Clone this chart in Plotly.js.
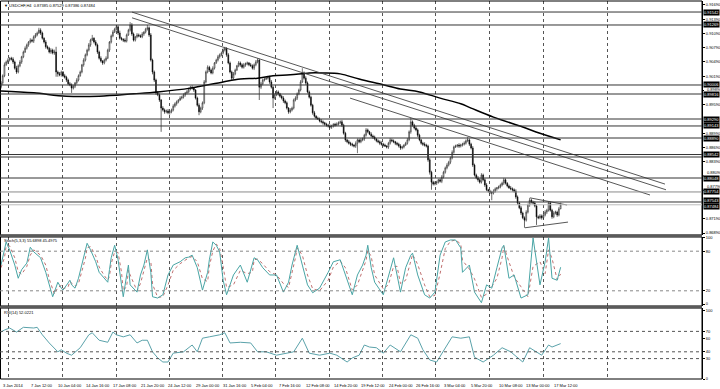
<!DOCTYPE html>
<html><head><meta charset="utf-8">
<script src="https://cdn.plot.ly/plotly-3.0.1.min.js"></script>
<style>html,body{margin:0;padding:0;background:#fff}#chart{width:720px;height:389px}</style>
</head><body><div id="chart"></div>
<script>
// ---- candle data (USDCHF H4), bar index 0 = 3 Jan 2014 00:00 ----
const firstOpen = 0.8996;
const closes = [
0.9005,0.9020,0.9043,0.9049,0.9053,0.9057,0.9055,0.9049,0.9036,0.9028,
0.9041,0.9049,0.9060,0.9070,0.9078,0.9085,0.9091,0.9095,0.9093,0.9102,
0.9106,0.9110,0.9116,0.9110,0.9099,0.9091,0.9081,0.9078,0.9070,0.9074,
0.9068,0.9070,0.9028,0.9024,0.9022,0.9028,0.9020,0.9017,0.9011,0.9003,
0.9001,0.8994,0.8998,0.9005,0.9011,0.9020,0.9028,0.9043,0.9053,0.9064,
0.9074,0.9085,0.9095,0.9099,0.9091,0.9085,0.9070,0.9057,0.9051,0.9047,
0.9053,0.9057,0.9074,0.9091,0.9104,0.9112,0.9118,0.9123,0.9110,0.9099,
0.9097,0.9095,0.9093,0.9106,0.9116,0.9127,0.9108,0.9095,0.9102,0.9106,
0.9104,0.9102,0.9108,0.9112,0.9118,0.9121,0.9106,0.9053,0.9028,0.9011,
0.8984,0.8980,0.8969,0.8952,0.8948,0.8944,0.8946,0.8942,0.8944,0.8948,
0.8956,0.8961,0.8965,0.8969,0.8973,0.8975,0.8980,0.8984,0.8986,0.8992,
0.8996,0.8994,0.8990,0.8973,0.8958,0.8944,0.8952,0.8963,0.9007,0.9028,
0.9038,0.9032,0.9026,0.9036,0.9047,0.9053,0.9060,0.9064,0.9068,0.9074,
0.9078,0.9064,0.9047,0.9028,0.9015,0.9024,0.9032,0.9041,0.9047,0.9043,
0.9038,0.9043,0.9045,0.9047,0.9043,0.9041,0.9036,0.9043,0.9049,0.9053,
0.8996,0.9003,0.9011,0.9013,0.9015,0.9017,0.9007,0.8996,0.8973,0.8980,
0.8986,0.8982,0.8977,0.8973,0.8967,0.8963,0.8952,0.8944,0.8948,0.8952,
0.8969,0.8973,0.8982,0.8990,0.9007,0.9026,0.9015,0.9005,0.8986,0.8975,
0.8958,0.8942,0.8935,0.8931,0.8929,0.8925,0.8923,0.8921,0.8918,0.8916,
0.8914,0.8912,0.8914,0.8918,0.8916,0.8918,0.8921,0.8923,0.8916,0.8899,
0.8885,0.8881,0.8878,0.8876,0.8874,0.8872,0.8878,0.8885,0.8881,0.8885,
0.8887,0.8895,0.8906,0.8902,0.8897,0.8893,0.8891,0.8887,0.8883,0.8881,
0.8878,0.8876,0.8874,0.8872,0.8870,0.8878,0.8885,0.8883,0.8881,0.8878,
0.8876,0.8872,0.8868,0.8870,0.8874,0.8878,0.8885,0.8902,0.8923,0.8916,
0.8910,0.8906,0.8895,0.8885,0.8878,0.8876,0.8874,0.8872,0.8843,0.8817,
0.8796,0.8792,0.8794,0.8796,0.8801,0.8798,0.8807,0.8817,0.8826,0.8832,
0.8838,0.8847,0.8859,0.8870,0.8872,0.8874,0.8872,0.8874,0.8876,0.8878,
0.8883,0.8885,0.8876,0.8868,0.8832,0.8811,0.8805,0.8801,0.8796,0.8811,
0.8801,0.8790,0.8780,0.8777,0.8775,0.8773,0.8777,0.8782,0.8784,0.8786,
0.8790,0.8794,0.8801,0.8794,0.8788,0.8784,0.8782,0.8780,0.8777,0.8765,
0.8752,0.8742,0.8731,0.8721,0.8716,0.8733,0.8748,0.8758,0.8754,0.8752,
0.8746,0.8723,0.8721,0.8725,0.8721,0.8727,0.8733,0.8737,0.8752,0.8737,
0.8723,0.8731,0.8733,0.8727,0.8740,0.8748];
// upper / lower shadow lengths in pips
const wickUp = [
4,3,5,3,4,2,3,4,3,5, 3,4,2,3,4,3,2,4,3,3, 4,3,5,4,3,2,4,3,3,4, 3,5,11,3,4,3,2,4,3,3,
4,3,3,2,4,3,3,2,4,3, 3,4,3,7,2,4,3,3,4,2, 3,4,3,2,3,4,3,4,3,5, 3,2,4,3,3,6,4,3,2,4,
3,3,4,2,3,6,3,4,3,3, 3,4,3,2,4,3,3,4,2,3, 4,3,3,2,4,3,3,2,4,3, 3,4,3,2,3,4,3,3,4,3,
4,3,3,4,2,3,4,3,3,4, 3,2,4,3,3,4,3,2,4,3, 3,4,3,3,2,4,3,3,4,4, 3,4,3,2,4,3,3,4,3,3,
4,3,2,3,4,3,3,2,4,3, 3,4,3,3,4,10,3,4,3,3, 3,3,4,2,3,3,4,3,2,3, 3,4,3,2,3,4,3,3,4,3,
3,2,4,3,3,2,4,3,3,4, 3,3,4,3,2,4,3,3,2,3, 3,4,3,3,2,3,4,3,3,2, 3,3,4,3,2,3,4,3,8,3,
3,4,3,3,2,3,4,3,3,4, 3,3,4,3,2,3,4,3,3,4, 3,3,4,3,3,2,4,3,3,4, 3,6,3,3,4,3,3,4,3,4,
3,3,4,2,3,3,4,3,2,3, 3,3,4,3,2,3,4,3,3,4, 3,3,4,3,3,4,3,5,3,3, 4,3,3,4,3,3,4,3,2,3,
3,4,3,3,4,5];
const wickDown = [
3,4,3,2,4,3,3,4,3,4, 3,3,4,3,2,3,4,3,3,4, 3,3,2,4,3,3,4,3,3,4, 3,4,10,6,3,4,3,3,4,3,
3,10,3,4,3,3,2,3,4,3, 3,3,4,2,3,3,4,3,3,4, 3,3,2,4,3,3,2,3,4,3, 3,4,3,3,2,3,4,3,3,3,
3,2,3,4,3,3,4,3,5,4, 4,3,4,50,3,4,3,3,4,3, 3,3,4,3,2,3,3,4,3,3, 3,3,4,3,3,7,3,4,3,3,
3,4,3,3,3,2,3,4,3,3, 3,4,3,3,5,3,3,2,3,4, 3,3,4,3,3,2,3,4,3,3, 27,4,3,3,2,3,4,3,21,3,
3,4,3,3,4,3,3,4,3,3, 3,3,4,3,3,2,3,4,3,3, 3,4,3,3,2,3,3,4,3,3, 3,3,4,3,3,2,3,3,4,3,
4,3,3,4,3,3,4,21,3,3, 3,4,3,3,2,3,4,3,3,3, 4,3,3,2,3,4,3,3,3,4, 3,3,4,3,3,2,3,3,4,3,
3,3,4,3,3,4,3,3,4,5, 16,3,3,4,3,3,4,3,3,3, 3,4,3,3,2,3,4,3,3,3, 3,3,4,3,4,3,3,4,3,3,
3,4,3,3,4,15,3,3,4,3, 3,3,4,3,3,2,3,4,3,4, 4,3,4,3,16,3,3,4,3,3, 3,17,3,3,4,3,3,4,3,3,
4,3,3,4,3,1];

// moving average (thick black line)
const maBars = [0,19,38,57,77,91,110,129,139,149,158,168,179,187,197,208,222,232,243,255,267,273,286,303,313,325];
const maValues = [0.8988,0.8984,0.8977,0.8977,0.8982,0.8986,0.8994,0.9007,0.9013,0.9015,0.9020,0.9022,0.9026,0.9026,0.9024,0.9013,0.9001,0.8992,0.8986,0.8973,0.8961,0.8952,0.8933,0.8912,0.8899,0.8885];

// trend lines (bar index, price)
const trendStartBars = [76.1, 76.1, 202.7, 307.2, 304.3];
const trendStartPrices = [0.9154, 0.9142, 0.8973, 0.8763, 0.8700];
const trendEndBars = [385.6, 386.2, 376.9, 328.7, 329.3];
const trendEndPrices = [0.8792, 0.8780, 0.8769, 0.8748, 0.8712];

// horizontal levels
const levelPrices = [0.91542,0.91269,0.90006,0.89816,0.89290,0.89143,0.88890,0.88542,0.88490,0.88048,0.87543];
const grayLevelPrices = [0.87754];
const bidPrice = 0.87484;
const levelLabelPrices = [0.91542,0.91269,0.90006,0.89816,0.89290,0.89143,0.88890,0.88542,0.88048,0.87754,0.87543,0.87484];
const priceTicks = [0.91690,0.91390,0.91090,0.90790,0.90490,0.90190,0.89590,0.88990,0.88690,0.88390,0.87190,0.86890];
const crowdedPriceTicks = [0.89890,0.88090,0.87790];

// Stochastic (5,3,3)
const stochBars = [0,2,3,5,8,10,12,15,17,19,
23,26,28,30,31,33,35,36,39,40,
41,43,45,47,49,50,52,55,57,60,
62,63,64,66,68,70,71,73,74,75,
78,79,81,83,85,87,88,91,94,97,
100,104,107,109,111,114,117,120,121,123,
125,127,129,131,135,139,143,146,147,149,
152,156,160,164,167,169,171,172,175,178,
181,185,190,193,197,200,202,204,207,210,
212,213,215,217,222,225,228,230,232,235,
238,239,242,246,249,252,255,258,261,264,
267,268,272,275,279,282,285,288,291,292,
295,298,302,306,309,313,316,318,320,323,
325];
const stochMain = [59,82,94,82,59,39,52,62,86,79,
70,48,29,11,18,33,24,21,32,36,
29,24,39,59,79,92,82,64,48,39,
33,52,70,89,67,29,11,44,59,29,
21,18,44,59,82,48,11,9,14,44,
59,64,70,71,74,55,21,48,67,94,
89,79,36,14,44,59,33,64,70,67,
55,44,44,18,33,59,82,89,59,29,
17,24,48,64,67,44,29,14,44,59,
74,89,55,33,14,44,70,44,18,55,
74,77,44,14,9,18,74,94,97,97,
85,48,59,18,2,29,24,55,85,89,
39,44,9,14,100,29,64,100,39,36,
55.69];
const stochSignal = [55,70,88,88,70,49,45,57,74,82,
74,59,38,20,15,25,28,23,26,34,
32,27,31,49,69,85,87,73,56,43,
36,42,61,79,78,48,20,27,51,44,
25,20,31,51,70,65,30,10,11,29,
51,61,67,70,72,64,38,34,57,80,
91,84,57,25,29,51,46,48,67,68,
61,49,44,31,25,46,70,85,74,44,
23,20,36,56,65,55,36,21,29,51,
66,81,72,44,23,29,57,57,31,36,
64,75,60,29,11,13,46,84,95,97,
91,66,53,38,10,15,26,39,70,87,
64,41,26,11,57,64,46,82,69,37,
45.50];
const stochLevels = [20, 80];

// RSI(14)
const rsiBars = [0,2,5,9,13,19,21,24,28,33,
35,38,41,46,51,53,57,62,65,67,
71,75,79,82,85,88,91,94,97,100,
106,111,114,117,121,127,130,133,139,145,
149,154,160,166,170,175,179,185,191,195,
201,204,208,211,214,218,222,226,232,238,
242,245,249,253,258,262,267,272,275,280,
286,291,296,303,307,311,314,318,320,325];
const rsiValues = [69,72,75,69,76,75,76,65,53,40,
43,38,35,46,65,68,57,54,69,65,
62,65,53,57,57,40,31,25,25,38,
40,50,40,60,62,65,68,53,54,53,
40,40,35,38,40,60,38,35,38,35,
25,31,35,50,47,46,38,50,40,65,
60,43,28,25,46,62,60,62,32,25,
35,46,40,25,46,40,35,50,47,52.02];
const rsiLevels = [30, 40, 70];

// time axis
const labelBars = [0,16,32,48,64,80,96,112,128,144,160,176,192,208,224,240,256,272,288,304,320];
const labelTexts = ['3 Jan 2014','7 Jan 12:00','10 Jan 04:00','14 Jan 16:00','17 Jan 08:00','21 Jan 20:00','24 Jan 12:00','29 Jan 00:00','31 Jan 16:00','5 Feb 04:00','7 Feb 16:00','12 Feb 08:00','14 Feb 20:00','19 Feb 12:00','24 Feb 00:00','26 Feb 16:00','3 Mar 04:00','5 Mar 20:00','10 Mar 08:00','13 Mar 00:00','17 Mar 12:00'];
const gridBars = [4.6,36.0,66.8,97.6,128.9,159.7,190.5,221.8,252.6,283.4,314.8,352.5];

// ---- build traces ----
const bars = closes.map((_, i) => i);
const opens = closes.map((c, i) => i === 0 ? firstOpen : closes[i - 1]);
const highs = closes.map((c, i) => Math.max(opens[i], c) + (wickUp[i] ?? 0) * 0.0001);
const lows = closes.map((c, i) => Math.min(opens[i], c) - (wickDown[i] ?? 0) * 0.0001);

const tlX = [], tlY = [];
trendStartBars.forEach((b, k) => { tlX.push(b, trendEndBars[k], null); tlY.push(trendStartPrices[k], trendEndPrices[k], null); });

const FONT = 'Liberation Sans, Arial, sans-serif';
const traces = [
  {type:'candlestick', x:bars, open:opens, high:highs, low:lows, close:closes, xaxis:'x', yaxis:'y',
   increasing:{line:{color:'#222', width:0.6}, fillcolor:'#fff'},
   decreasing:{line:{color:'#000', width:0.6}, fillcolor:'#000'},
   whiskerwidth:0, hoverinfo:'skip', showlegend:false},
  {type:'scatter', mode:'lines', x:maBars, y:maValues, xaxis:'x', yaxis:'y', line:{color:'#000', width:1.5, shape:'spline'}, hoverinfo:'skip'},
  {type:'scatter', mode:'lines', x:tlX, y:tlY, xaxis:'x', yaxis:'y', line:{color:'#444', width:0.9}, hoverinfo:'skip', connectgaps:false},
  {type:'scatter', mode:'lines', x:stochBars, y:stochSignal, xaxis:'x2', yaxis:'y2', line:{color:'#c07070', width:1, dash:'dot'}, hoverinfo:'skip'},
  {type:'scatter', mode:'lines', x:stochBars, y:stochMain, xaxis:'x2', yaxis:'y2', line:{color:'#49a5a5', width:1}, hoverinfo:'skip'},
  {type:'scatter', mode:'lines', x:rsiBars, y:rsiValues, xaxis:'x3', yaxis:'y3', line:{color:'#5aa2aa', width:1}, hoverinfo:'skip'}
];

const H = 389, W = 720;
const py = px => 1 - px / H;
const xRight = 702 / W;
const xRange = [-0.58, 407.1];
const xBase = {domain:[0, xRight], range:xRange, tickvals:gridBars, showticklabels:false, ticks:'',
  showgrid:true, griddash:'dot', gridcolor:'#555', gridwidth:1, zeroline:false, showline:false, fixedrange:true};
const yBase = {side:'right', showgrid:false, zeroline:false, showline:true, linecolor:'#000', linewidth:1,
  ticks:'outside', ticklen:2, tickcolor:'#000', tickfont:{family:FONT, size:4, color:'#000'}, fixedrange:true};

const shapes = [];
[[1,235],[237,306],[308,379]].forEach(([t,b]) => shapes.push({type:'rect', xref:'paper', yref:'paper', x0:0.0007, x1:xRight, y0:py(b), y1:py(t), line:{color:'#000', width:1}}));
[235.8, 307].forEach(p => shapes.push({type:'line', xref:'paper', yref:'paper', x0:0, x1:xRight, y0:py(p), y1:py(p), line:{color:'#5a5a5a', width:2.5}}));
levelPrices.forEach(p => shapes.push({type:'line', xref:'paper', yref:'y', x0:0, x1:xRight, y0:p, y1:p, line:{color:'#333', width:1}}));
grayLevelPrices.forEach(p => shapes.push({type:'line', xref:'paper', yref:'y', x0:0, x1:xRight, y0:p, y1:p, line:{color:'#8a8a8a', width:1}}));
shapes.push({type:'line', xref:'paper', yref:'y', x0:0, x1:xRight, y0:bidPrice, y1:bidPrice, line:{color:'#bdbdbd', width:1}});
stochLevels.forEach(v => shapes.push({type:'line', xref:'paper', yref:'y2', x0:0, x1:xRight, y0:v, y1:v, line:{color:'#888', width:1, dash:'dot'}}));
rsiLevels.forEach(v => shapes.push({type:'line', xref:'paper', yref:'y3', x0:0, x1:xRight, y0:v, y1:v, line:{color:'#555', width:1, dash:'dot'}}));
crowdedPriceTicks.forEach(p => shapes.push({type:'line', xref:'paper', yref:'y', x0:xRight, x1:xRight + 2 / W, y0:p, y1:p, line:{color:'#000', width:1}}));

const annotations = [];
const txt = (text, x, y) => ({text, x, y, xref:'paper', yref:'paper', xanchor:'left', yanchor:'middle', showarrow:false, font:{family:FONT, size:4, color:'#000'}});
annotations.push(txt('▼ USDCHF,H4  0.87385 0.87529 0.87386 0.87484', 0.003, py(5)));
annotations.push(txt('Stoch(5,3,3) 55.6898 45.4975', 0.003, py(240)));
annotations.push(txt('RSI(14) 52.0221', 0.003, py(312)));
labelBars.forEach((b, k) => annotations.push({text:labelTexts[k], x:b, xref:'x3', y:py(385.5), yref:'paper', xanchor:'left', yanchor:'middle', showarrow:false, font:{family:FONT, size:4, color:'#000'}}));
// tick labels squeezed between black level boxes: nudged to the free gap
crowdedPriceTicks.forEach((p, k) => annotations.push({text:p.toFixed(5), x:xRight + 3 / W, xref:'paper', y:p, yref:'y', xanchor:'left', yanchor:'middle',
  yshift: k === 0 ? 1.3 : 3.5, showarrow:false, font:{family:FONT, size:4, color:'#000'}}));
levelLabelPrices.forEach((p, k) => {
  const next = levelLabelPrices[k + 1], prev = levelLabelPrices[k - 1];
  let ys = 0;
  if (next !== undefined && p - next < 0.001) ys = 1.5;
  if (prev !== undefined && prev - p < 0.001) ys = -1.5;
  annotations.push({text:p.toFixed(5), x:xRight + 0.002, xref:'paper', y:p, yref:'y', yshift:ys, xanchor:'left', yanchor:'middle', showarrow:false,
    font:{family:FONT, size:4, color:'#fff'}, bgcolor:'#000', borderpad:0});
});

const layout = {
  width:W, height:H, margin:{l:0, r:0, t:0, b:0}, autosize:false, showlegend:false,
  paper_bgcolor:'#fff', plot_bgcolor:'#fff', font:{family:FONT, size:4, color:'#000'},
  xaxis: Object.assign({}, xBase, {anchor:'y', rangeslider:{visible:false}}),
  xaxis2: Object.assign({}, xBase, {anchor:'y2'}),
  xaxis3: Object.assign({}, xBase, {anchor:'y3'}),
  yaxis: Object.assign({}, yBase, {anchor:'x', domain:[py(235), py(1)], range:[0.86848, 0.91774], tickvals:priceTicks, ticktext:priceTicks.map(v => v.toFixed(5))}),
  yaxis2: Object.assign({}, yBase, {anchor:'x2', domain:[py(306), py(237)], range:[-3.03, 101.5], tickvals:[0,20,80,100]}),
  yaxis3: Object.assign({}, yBase, {anchor:'x3', domain:[py(379), py(308)], range:[0, 104.4], tickvals:[0,30,40,60,70,100]}),
  shapes, annotations
};
Plotly.newPlot('chart', traces, layout, {staticPlot:true, displayModeBar:false});
</script></body></html>
